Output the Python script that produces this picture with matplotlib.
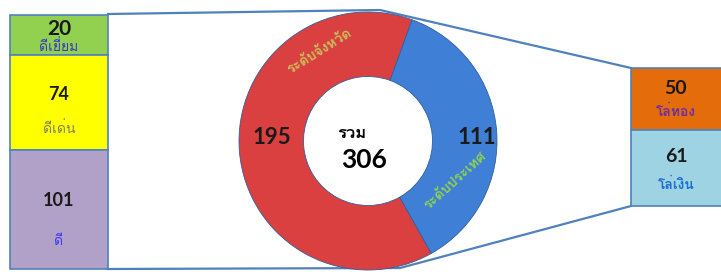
import matplotlib
matplotlib.use('Agg')
import matplotlib.pyplot as plt
from matplotlib import font_manager
from matplotlib.ft2font import FT2Font
from matplotlib.patches import Rectangle

# ข้อมูล
total_labels = ['ระดับจังหวัด', 'ระดับประเทศ']
total_values = [195, 111]
province_labels = ['ดีเยี่ยม', 'ดีเด่น', 'ดี']
province_values = [20, 74, 101]
nation_labels = ['โล่ทอง', 'โล่เงิน']
nation_values = [50, 61]

# หา font ที่มีอักษรไทย
thai_font = None
for f in font_manager.fontManager.ttflist:
    try:
        if FT2Font(f.fname).get_char_index(ord('ร')):
            thai_font = f.name
            break
    except Exception:
        pass
plt.rcParams['font.family'] = [thai_font, 'DejaVu Sans'] if thai_font else ['DejaVu Sans']
NUM_FONT = ['Lato', 'DejaVu Sans']

W, H = 721, 272


def Y(py):
    # พิกัดพิกเซลจากด้านบน -> พิกัดแกน
    return H - py


fig = plt.figure(figsize=(W / 100, H / 100), dpi=100)
ax = fig.add_axes([0, 0, 1, 1])

line_col = '#4F81BD'

# เส้นเชื่อม
ax.plot([108, 380, 631], [Y(14), Y(10), Y(68)], color=line_col, lw=1.6, zorder=1)
ax.plot([108, 400, 631], [Y(269), Y(268), Y(206)], color=line_col, lw=1.6, zorder=1)

# โดนัท
cx, cy, r = 368, Y(141), 129
wedges, _ = ax.pie(total_values, colors=['#D9403F', '#3F7FD6'], startangle=70,
                   counterclock=True, radius=r, center=(cx, cy),
                   wedgeprops=dict(width=r * 0.5, edgecolor='#2F5F9F', linewidth=0.6))
for w in wedges:
    w.set_zorder(2)

ax.text(272, Y(138), str(total_values[0]), fontsize=16, fontweight='bold', family=NUM_FONT,
        ha='center', va='center', color='#1A1A1A', zorder=3)
ax.text(477, Y(137), str(total_values[1]), fontsize=16, fontweight='bold', family=NUM_FONT,
        ha='center', va='center', color='#1A1A1A', zorder=3)
ax.text(320, Y(52), total_labels[0], fontsize=10, fontweight='bold', rotation=32,
        ha='center', va='center', color='#C9BF5A', zorder=3)
ax.text(456, Y(181), total_labels[1], fontsize=10, fontweight='bold', rotation=42,
        ha='center', va='center', color='#8FD24E', zorder=3)
ax.text(352, Y(133), 'รวม', fontsize=12, fontweight='bold', ha='center', va='center', zorder=3)
ax.text(364, Y(160), str(sum(total_values)), fontsize=19, fontweight='bold', family=NUM_FONT,
        ha='center', va='center', zorder=3)

# กล่องซ้าย (ระดับจังหวัด)
left_x0, left_x1 = 10, 108
left_edges = [15, 55, 150, 269]
left_colors = ['#92D050', '#FFFF00', '#B1A0C7']
left_txt_cols = ['#3A3AC8', '#7F7F6A', '#3B3BF0']
left_num_y = [29, 94, 201]
left_lab_y = [47, 129, 242]
left_num_fs = [15, 13, 13]
for i, (val, lab) in enumerate(zip(province_values, province_labels)):
    top, bot = left_edges[i], left_edges[i + 1]
    ax.add_patch(Rectangle((left_x0, Y(bot)), left_x1 - left_x0, bot - top,
                           facecolor=left_colors[i], edgecolor=line_col, lw=1.2, zorder=2))
    xm = (left_x0 + left_x1) / 2
    ax.text(xm, Y(left_num_y[i]), str(val), fontsize=left_num_fs[i], fontweight='bold',
            family=NUM_FONT, ha='center', va='center', color='#1A1A1A', zorder=3)
    ax.text(xm, Y(left_lab_y[i]), lab, fontsize=10, ha='center', va='center',
            color=left_txt_cols[i], zorder=3)

# กล่องขวา (ระดับประเทศ)
right_x0, right_x1 = 631, 722
right_edges = [68, 130, 206]
right_colors = ['#E46C0A', '#9DD3E2']
right_txt_cols = ['#7030A0', '#1F6FD0']
right_num_y = [89, 156]
right_lab_y = [112, 185]
for i, (val, lab) in enumerate(zip(nation_values, nation_labels)):
    top, bot = right_edges[i], right_edges[i + 1]
    ax.add_patch(Rectangle((right_x0, Y(bot)), right_x1 - right_x0, bot - top,
                           facecolor=right_colors[i], edgecolor=line_col, lw=1.2, zorder=2))
    xm = (right_x0 + 721) / 2
    ax.text(xm, Y(right_num_y[i]), str(val), fontsize=14, fontweight='bold', family=NUM_FONT,
            ha='center', va='center', color='#1A1A1A', zorder=3)
    ax.text(xm, Y(right_lab_y[i]), lab, fontsize=10, fontweight='bold', ha='center', va='center',
            color=right_txt_cols[i], zorder=3)

ax.set_xlim(0, W)
ax.set_ylim(0, H)
ax.set_aspect('auto')
ax.axis('off')

fig.savefig('out.png', dpi=100)
